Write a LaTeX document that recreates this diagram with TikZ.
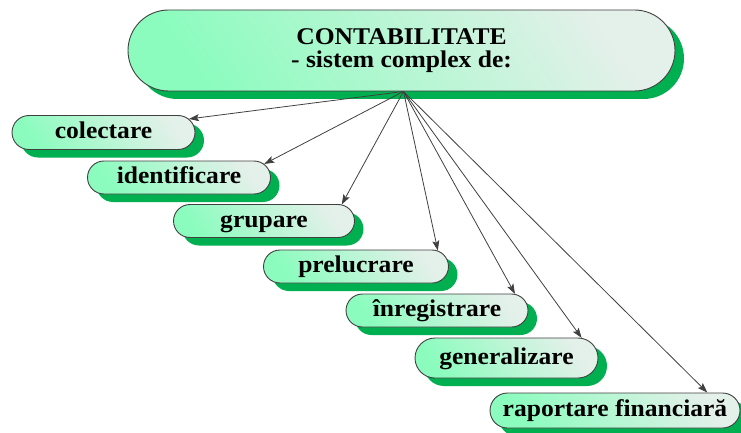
\documentclass[tikz,border=0pt]{standalone}
\usepackage{fontspec}
\setmainfont{Liberation Serif}[FakeStretch=1.065]
\usepackage{xcolor}
\usetikzlibrary{positioning, arrows.meta, shapes.misc, shadows}

\definecolor{mintgreen}{RGB}{140,252,190}
\definecolor{palegreen}{RGB}{228,240,234}
\definecolor{shadowgreen}{RGB}{0,176,80}
\definecolor{linegray}{RGB}{64,64,64}

\begin{document}
\begin{tikzpicture}[
  x=1pt, y=-1pt,
  pill/.style={rounded rectangle, draw=linegray, line width=0.9pt,
    top color=palegreen, bottom color=mintgreen, shading angle=-55,
    drop shadow={shadow xshift=9pt, shadow yshift=-8pt, fill=shadowgreen, opacity=1},
    font=\fontsize{24}{23}\selectfont\bfseries, inner sep=0pt},
  titlebox/.style={pill, minimum width=547pt, minimum height=81pt, align=center},
  stepbox/.style={pill, minimum width=183pt, minimum height=33pt, text height=17pt, text depth=5pt},
  arr/.style={-{Stealth[length=10pt, width=7pt, inset=2pt]}, line width=0.8pt, linegray},
]
\useasboundingbox (0,0) rectangle (741,433);

% === Title ===
\node[titlebox] (main) at (401.5,50.5) {CONTABILITATE\\- sistem complex de:};
\coordinate (hub) at ([xshift=2pt]main.south);

% === Steps (staircase) ===
\node[stepbox, minimum height=34pt] (colectare) at (103.5,132.5) {colectare};
\node[stepbox] (identificare) at (179,177.5) {identificare};
\node[stepbox, minimum width=181pt] (grupare) at (264,221) {grupare};
\node[stepbox, minimum width=185pt] (prelucrare) at (356,266.5) {prelucrare};
\node[stepbox, minimum width=182pt] (inregistrare) at (437,310.5) {înregistrare};
\node[stepbox, minimum height=40pt] (generalizare) at (506.5,358) {generalizare};
\node[stepbox, minimum width=250pt, minimum height=35pt] (raportare) at (615,410.5) {raportare financiară};

% === Arrows from the title ===
\draw[arr] (hub) -- (colectare.9);
\draw[arr] (hub) -- (identificare.9);
\draw[arr] (hub) -- (grupare.12);
\draw[arr] (hub) -- (prelucrare.11);
\draw[arr] (hub) -- (inregistrare.12);
\draw[arr] (hub) -- (generalizare.15);
\draw[arr] (hub) -- (raportare.11);

\end{tikzpicture}
\end{document}
